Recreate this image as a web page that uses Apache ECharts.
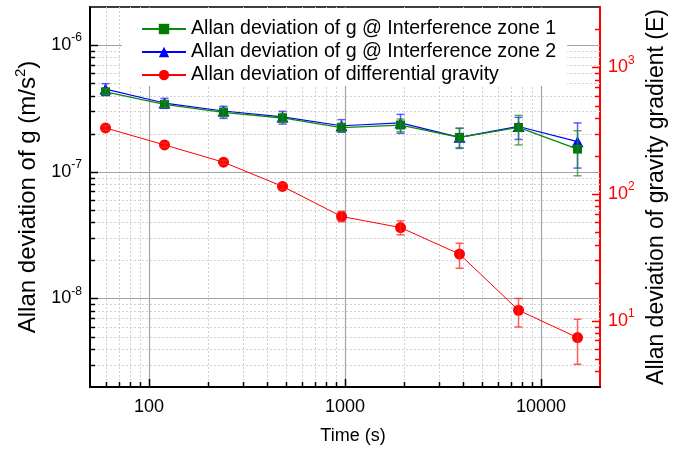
<!DOCTYPE html>
<html>
<head>
<meta charset="utf-8">
<script src="https://cdn.jsdelivr.net/npm/echarts@6/dist/echarts.min.js"></script>
<style>
  html, body { margin: 0; padding: 0; background: #fff; }
  #chart { width: 679px; height: 452px; }
</style>
</head>
<body>
<div id="chart"></div>
<script>
// Averaging times (s)
const tau = [60, 120, 240, 480, 960, 1920, 3840, 7680, 15360];

// Allan deviation of g, interference zone 1 (m/s^2) with error-bar bounds
const zone1     = [4.28e-7, 3.41e-7, 2.95e-7, 2.66e-7, 2.23e-7, 2.34e-7, 1.87e-7, 2.24e-7, 1.51e-7];
const zone1Low  = [4.08e-7, 3.22e-7, 2.72e-7, 2.46e-7, 2.08e-7, 2.07e-7, 1.55e-7, 1.63e-7, 9.3e-8];
const zone1High = [4.50e-7, 3.62e-7, 3.18e-7, 2.88e-7, 2.42e-7, 2.61e-7, 2.20e-7, 2.79e-7, 2.11e-7];

// Allan deviation of g, interference zone 2 (m/s^2) with error-bar bounds
const zone2     = [4.50e-7, 3.49e-7, 3.02e-7, 2.71e-7, 2.31e-7, 2.43e-7, 1.87e-7, 2.28e-7, 1.73e-7];
const zone2Low  = [4.04e-7, 3.17e-7, 2.64e-7, 2.38e-7, 2.05e-7, 2.01e-7, 1.53e-7, 1.80e-7, 1.07e-7];
const zone2High = [4.96e-7, 3.80e-7, 3.29e-7, 3.00e-7, 2.58e-7, 2.84e-7, 2.21e-7, 2.69e-7, 2.43e-7];

// Allan deviation of differential gravity (m/s^2) with error-bar bounds
const diffG     = [2.22e-7, 1.63e-7, 1.19e-7, 7.67e-8, 4.44e-8, 3.63e-8, 2.24e-8, 8.07e-9, 4.91e-9];
const diffGLow  = [2.12e-7, 1.57e-7, 1.15e-7, 7.30e-8, 4.03e-8, 3.18e-8, 1.73e-8, 5.95e-9, 3.02e-9];
const diffGHigh = [2.32e-7, 1.69e-7, 1.23e-7, 8.05e-8, 4.88e-8, 4.10e-8, 2.73e-8, 1.00e-8, 6.85e-9];

// Axis ranges and labelled decades
const xRange = [50, 20000];
const yLeftRange = [2e-9, 2e-6];
const yRightRange = [3, 3000];
const xTickLabels = [100, 1000, 10000];
const yLeftTickLabels = [1e-8, 1e-7, 1e-6];
const yRightTickLabels = [10, 100, 1000];

const seriesNames = [
  'Allan deviation of g @ Interference zone 1',
  'Allan deviation of g @ Interference zone 2',
  'Allan deviation of differential gravity'
];

const FONT = '"Liberation Sans", Arial, Helvetica, sans-serif';

// log-decade grid positions (1..9 x 10^n) strictly inside a range; flag 1 = decade
function logGrid(range) {
  const out = [];
  const e0 = Math.floor(Math.log10(range[0]));
  const e1 = Math.ceil(Math.log10(range[1]));
  for (let e = e0; e <= e1; e++) {
    for (let k = 1; k <= 9; k++) {
      const v = k * Math.pow(10, e);
      if (v > range[0] * 1.0001 && v < range[1] / 1.0001) out.push([v, k === 1 ? 1 : 0]);
    }
  }
  return out;
}

const majorGrid = { stroke: '#a3a3a3', lineWidth: 1.2 };
const minorGrid = { stroke: '#d2d2d2', lineWidth: 1, lineDash: [2, 2] };
const crisp = v => Math.round(v) + 0.5;

// vertical grid lines + bottom ticks
function renderXGrid(params, api) {
  const cs = params.coordSys;
  const x = crisp(api.coord([api.value(0), 1e-7])[0]);
  const major = api.value(2) === 1;
  const bottom = cs.y + cs.height;
  return {
    type: 'group',
    children: [
      { type: 'line', shape: { x1: x, y1: cs.y, x2: x, y2: bottom }, style: major ? majorGrid : minorGrid },
      { type: 'line', shape: { x1: x, y1: bottom, x2: x, y2: bottom - (major ? 8 : 5) },
        style: { stroke: '#000', lineWidth: 1.5 } }
    ]
  };
}

// horizontal grid lines + left ticks
function renderYGrid(params, api) {
  const cs = params.coordSys;
  const y = crisp(api.coord([1000, api.value(1)])[1]);
  const major = api.value(2) === 1;
  return {
    type: 'group',
    children: [
      { type: 'line', shape: { x1: cs.x, y1: y, x2: cs.x + cs.width, y2: y }, style: major ? majorGrid : minorGrid },
      { type: 'line', shape: { x1: cs.x, y1: y, x2: cs.x + (major ? 8 : 5), y2: y },
        style: { stroke: '#000', lineWidth: 1.5 } }
    ]
  };
}

// red ticks on the right-hand axis
function renderRightTicks(params, api) {
  const cs = params.coordSys;
  const y = crisp(api.coord([1000, api.value(1)])[1]);
  const major = api.value(2) === 1;
  const right = cs.x + cs.width;
  return {
    type: 'line',
    shape: { x1: right, y1: y, x2: right - (major ? 8 : 5), y2: y },
    style: { stroke: '#ff0000', lineWidth: 1.5 }
  };
}

function errorBars(color) {
  return function (params, api) {
    const x = api.value(0);
    const lo = api.coord([x, api.value(1)]);
    const hi = api.coord([x, api.value(2)]);
    const w = 4;
    const style = { stroke: color, lineWidth: 1.5 };
    return {
      type: 'group',
      children: [
        { type: 'line', shape: { x1: lo[0], y1: lo[1], x2: hi[0], y2: hi[1] }, style },
        { type: 'line', shape: { x1: lo[0] - w, y1: lo[1], x2: lo[0] + w, y2: lo[1] }, style },
        { type: 'line', shape: { x1: hi[0] - w, y1: hi[1], x2: hi[0] + w, y2: hi[1] }, style }
      ]
    };
  };
}

const pairs = (ys) => tau.map((t, i) => [t, ys[i]]);
const bars = (lo, hi) => tau.map((t, i) => [t, lo[i], hi[i]]);

const powerLabel = (color, ticks) => ({
  margin: 8,
  color: color,
  fontFamily: FONT,
  showMinLabel: false,
  showMaxLabel: false,
  formatter: (v) => {
    if (!ticks.some(t => Math.abs(t - v) / t < 1e-6)) return '';
    return '{b|10}{s|' + Math.round(Math.log10(v)) + '}';
  },
  rich: {
    b: { fontSize: 18, lineHeight: 26, color: color, fontFamily: FONT },
    s: { fontSize: 12, lineHeight: 12, verticalAlign: 'top', color: color, fontFamily: FONT }
  }
});

const chart = echarts.init(document.getElementById('chart'), null, { renderer: 'canvas' });

chart.setOption({
  animation: false,
  backgroundColor: '#ffffff',
  textStyle: { fontFamily: FONT },
  grid: {
    left: 90, right: 79, top: 7, bottom: 65,
    show: true, borderColor: '#000', borderWidth: 1.5, backgroundColor: 'transparent'
  },
  legend: {
    data: seriesNames,
    orient: 'vertical',
    left: 122,
    top: 8,
    padding: [10, 11, 0, 19],
    itemWidth: 44,
    itemHeight: 13,
    itemGap: 1,
    backgroundColor: '#ffffff',
    textStyle: { fontSize: 19.6, lineHeight: 22, color: '#000', fontFamily: FONT }
  },
  xAxis: {
    type: 'log',
    logBase: 10,
    min: xRange[0],
    max: xRange[1],
    name: 'Time (s)',
    nameLocation: 'middle',
    nameGap: 40,
    nameTextStyle: { fontSize: 18, color: '#000', fontFamily: FONT, padding: [0, 0, 0, 16] },
    axisLine: { show: true, lineStyle: { color: '#000', width: 2 } },
    axisTick: { show: false },
    splitLine: { show: false },
    minorTick: { show: false },
    axisLabel: {
      margin: 11,
      fontSize: 18,
      color: '#000',
      fontFamily: FONT,
      showMinLabel: false,
      showMaxLabel: false,
      formatter: (v) => (xTickLabels.some(t => Math.abs(t - v) / t < 1e-6) ? String(Math.round(v)) : '')
    }
  },
  yAxis: [
    {
      type: 'log',
      logBase: 10,
      min: yLeftRange[0],
      max: yLeftRange[1],
      position: 'left',
      name: '{t|Allan deviation of g (m/s}{u|2}{t|)}',
      nameLocation: 'middle',
      nameGap: 46,
      nameTextStyle: {
        rich: {
          t: { fontSize: 24, lineHeight: 30, color: '#000', fontFamily: FONT },
          u: { fontSize: 15, lineHeight: 15, verticalAlign: 'top', color: '#000', fontFamily: FONT }
        }
      },
      axisLine: { show: true, lineStyle: { color: '#000', width: 2 } },
      axisTick: { show: false },
      splitLine: { show: false },
      axisLabel: powerLabel('#000', yLeftTickLabels)
    },
    {
      type: 'log',
      logBase: 10,
      min: yRightRange[0],
      max: yRightRange[1],
      position: 'right',
      name: 'Allan deviation of gravity gradient (E)',
      nameLocation: 'middle',
      nameGap: 42,
      nameRotate: 90,
      nameTextStyle: { fontSize: 23, color: '#000', fontFamily: FONT },
      axisLine: { show: true, lineStyle: { color: '#ff0000', width: 2 } },
      axisTick: { show: false },
      splitLine: { show: false },
      axisLabel: powerLabel('#ff0000', yRightTickLabels)
    }
  ],
  series: [
    {
      name: 'xgrid', type: 'custom', silent: true, z: 1, clip: false,
      renderItem: renderXGrid,
      data: logGrid(xRange).map(g => [g[0], 1e-7, g[1]]),
      encode: { x: 0, y: 1 }
    },
    {
      name: 'ygrid', type: 'custom', silent: true, z: 1, clip: false,
      renderItem: renderYGrid,
      data: logGrid(yLeftRange).map(g => [1000, g[0], g[1]]),
      encode: { x: 0, y: 1 }
    },
    {
      name: 'rticks', type: 'custom', silent: true, z: 6, clip: false, yAxisIndex: 1,
      renderItem: renderRightTicks,
      data: logGrid(yRightRange).map(g => [1000, g[0], g[1]]),
      encode: { x: 0, y: 1 }
    },
    {
      name: seriesNames[1],
      type: 'line',
      z: 3,
      data: pairs(zone2),
      symbol: 'triangle',
      symbolSize: [12, 11],
      itemStyle: { color: '#0000ff' },
      lineStyle: { color: '#0000ff', width: 1.2 }
    },
    {
      name: seriesNames[0],
      type: 'line',
      z: 4,
      data: pairs(zone1),
      symbol: 'rect',
      symbolSize: 9,
      itemStyle: { color: '#007a00' },
      lineStyle: { color: '#0a8a0a', width: 1.3 }
    },
    {
      name: seriesNames[2],
      type: 'line',
      z: 3,
      data: pairs(diffG),
      symbol: 'circle',
      symbolSize: 11,
      itemStyle: { color: '#ff0000' },
      lineStyle: { color: '#ff0000', width: 1 }
    },
    {
      name: 'zone2-err', type: 'custom', silent: true, z: 5,
      renderItem: errorBars('rgba(40,40,255,0.75)'),
      data: bars(zone2Low, zone2High),
      encode: { x: 0, y: [1, 2] }
    },
    {
      name: 'zone1-err', type: 'custom', silent: true, z: 5,
      renderItem: errorBars('rgba(30,140,30,0.7)'),
      data: bars(zone1Low, zone1High),
      encode: { x: 0, y: [1, 2] }
    },
    {
      name: 'diff-err', type: 'custom', silent: true, z: 5,
      renderItem: errorBars('rgba(255,40,40,0.75)'),
      data: bars(diffGLow, diffGHigh),
      encode: { x: 0, y: [1, 2] }
    }
  ]
});
</script>
</body>
</html>
